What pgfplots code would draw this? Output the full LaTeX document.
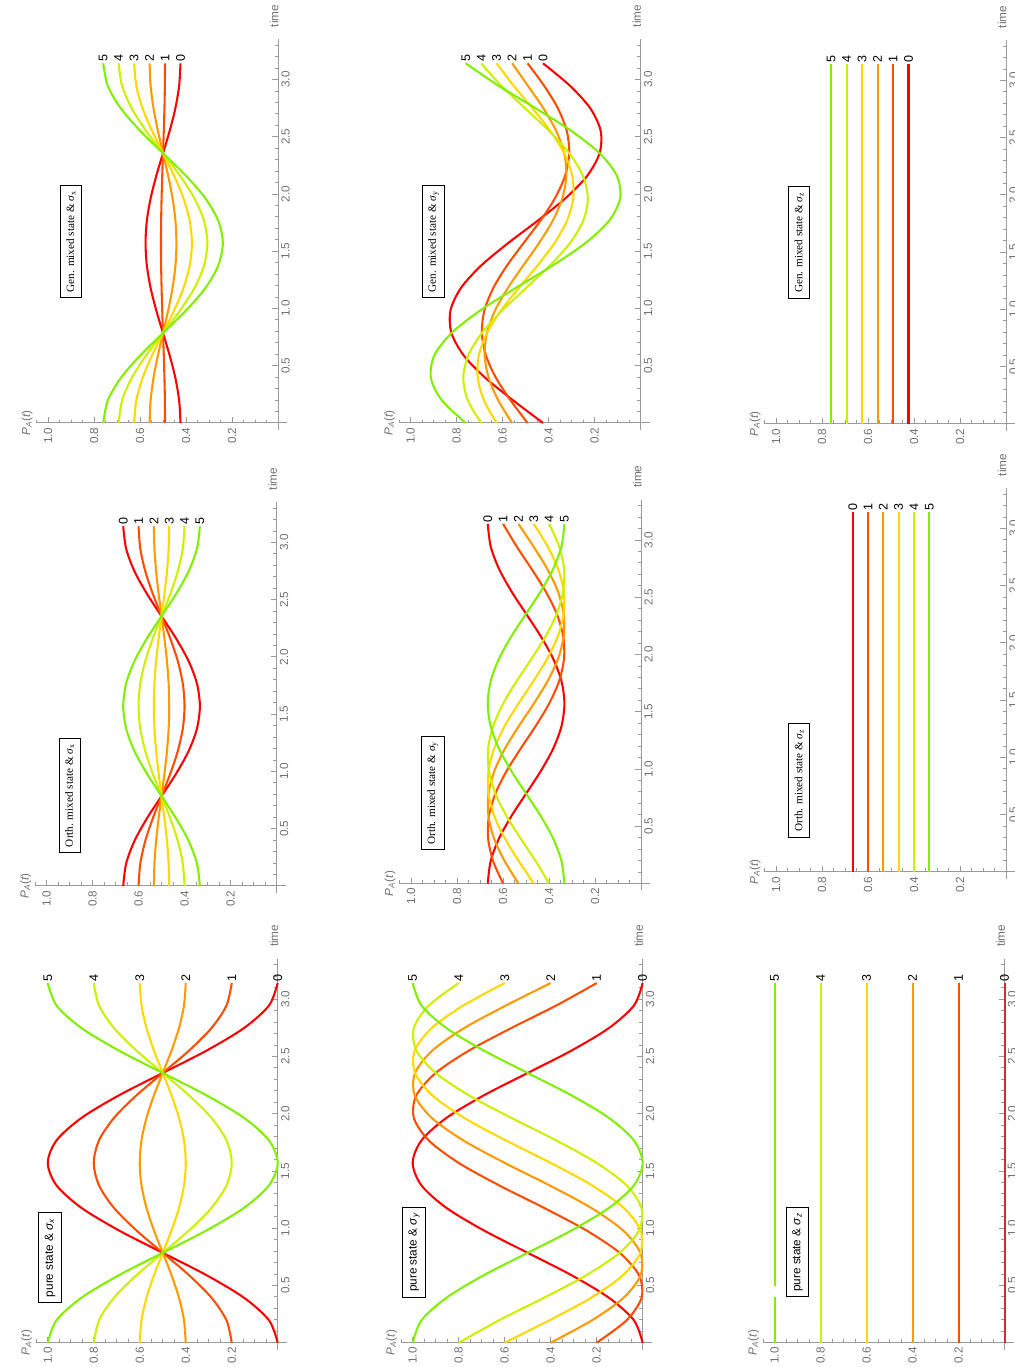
\documentclass[border=0pt]{standalone}
\usepackage{pgfplots}
\pgfplotsset{compat=1.18}
\usepackage{pgfplotstable}
\usepackage{fontspec}
\setmainfont{Liberation Sans}
\newfontfamily\seriffont{Liberation Serif}

\definecolor{c0}{HTML}{FF0000}
\definecolor{c1}{HTML}{FF4D00}
\definecolor{c2}{HTML}{FF9900}
\definecolor{c3}{HTML}{FFD800}
\definecolor{c4}{HTML}{CCF000}
\definecolor{c5}{HTML}{80F000}
\definecolor{axisgray}{HTML}{9A9A9A}
\definecolor{labgray}{HTML}{707070}

\newcommand\ticksize{\fontsize{8.8}{9.5}\selectfont}
\newcommand\lblsize{\fontsize{9.4}{10}\selectfont}
\newcommand\sansbox{\fontsize{8.8}{10}\selectfont}
\newcommand\serifbox{\seriffont\fontsize{8.4}{10}\selectfont}

% P_A(t) of the six initial states k = 0..5, sampled at t = j*pi/16
\pgfplotstableread{
t k0 k1 k2 k3 k4 k5
0.00000 0.00000 0.20000 0.40000 0.60000 0.80000 1.00000
0.19635 0.03806 0.22284 0.40761 0.59239 0.77716 0.96194
0.39270 0.14645 0.28787 0.42929 0.57071 0.71213 0.85355
0.58905 0.30866 0.38520 0.46173 0.53827 0.61480 0.69134
0.78540 0.50000 0.50000 0.50000 0.50000 0.50000 0.50000
0.98175 0.69134 0.61480 0.53827 0.46173 0.38520 0.30866
1.17810 0.85355 0.71213 0.57071 0.42929 0.28787 0.14645
1.37445 0.96194 0.77716 0.59239 0.40761 0.22284 0.03806
1.57080 1.00000 0.80000 0.60000 0.40000 0.20000 0.00000
1.76715 0.96194 0.77716 0.59239 0.40761 0.22284 0.03806
1.96350 0.85355 0.71213 0.57071 0.42929 0.28787 0.14645
2.15984 0.69134 0.61480 0.53827 0.46173 0.38520 0.30866
2.35619 0.50000 0.50000 0.50000 0.50000 0.50000 0.50000
2.55254 0.30866 0.38520 0.46173 0.53827 0.61480 0.69134
2.74889 0.14645 0.28787 0.42929 0.57071 0.71213 0.85355
2.94524 0.03806 0.22284 0.40761 0.59239 0.77716 0.96194
3.14159 0.00000 0.20000 0.40000 0.60000 0.80000 1.00000
}\pureX

\pgfplotstableread{
t k0 k1 k2 k3 k4 k5
0.00000 0.00000 0.20000 0.40000 0.60000 0.80000 1.00000
0.19635 0.03806 0.06977 0.22013 0.40491 0.62409 0.96194
0.39270 0.14645 0.00503 0.08288 0.22430 0.42929 0.85355
0.58905 0.30866 0.01565 0.00912 0.08566 0.24525 0.69134
0.78540 0.50000 0.10000 0.01010 0.01010 0.10000 0.50000
0.98175 0.69134 0.24525 0.08566 0.00912 0.01565 0.30866
1.17810 0.85355 0.42929 0.22430 0.08288 0.00503 0.14645
1.37445 0.96194 0.62409 0.40491 0.22013 0.06977 0.03806
1.57080 1.00000 0.80000 0.60000 0.40000 0.20000 0.00000
1.76715 0.96194 0.93023 0.77987 0.59509 0.37591 0.03806
1.96350 0.85355 0.99497 0.91712 0.77570 0.57071 0.14645
2.15984 0.69134 0.98435 0.99088 0.91434 0.75475 0.30866
2.35619 0.50000 0.90000 0.98990 0.98990 0.90000 0.50000
2.55254 0.30866 0.75475 0.91434 0.99088 0.98435 0.69134
2.74889 0.14645 0.57071 0.77570 0.91712 0.99497 0.85355
2.94524 0.03806 0.37591 0.59509 0.77987 0.93023 0.96194
3.14159 0.00000 0.20000 0.40000 0.60000 0.80000 1.00000
}\pureY

\pgfplotstableread{
t k0 k1 k2 k3 k4 k5
0.00000 0.66667 0.60000 0.53333 0.46667 0.40000 0.33333
0.19635 0.65398 0.59239 0.53080 0.46920 0.40761 0.34602
0.39270 0.61785 0.57071 0.52357 0.47643 0.42929 0.38215
0.58905 0.56378 0.53827 0.51276 0.48724 0.46173 0.43622
0.78540 0.50000 0.50000 0.50000 0.50000 0.50000 0.50000
0.98175 0.43622 0.46173 0.48724 0.51276 0.53827 0.56378
1.17810 0.38215 0.42929 0.47643 0.52357 0.57071 0.61785
1.37445 0.34602 0.40761 0.46920 0.53080 0.59239 0.65398
1.57080 0.33333 0.40000 0.46667 0.53333 0.60000 0.66667
1.76715 0.34602 0.40761 0.46920 0.53080 0.59239 0.65398
1.96350 0.38215 0.42929 0.47643 0.52357 0.57071 0.61785
2.15984 0.43622 0.46173 0.48724 0.51276 0.53827 0.56378
2.35619 0.50000 0.50000 0.50000 0.50000 0.50000 0.50000
2.55254 0.56378 0.53827 0.51276 0.48724 0.46173 0.43622
2.74889 0.61785 0.57071 0.52357 0.47643 0.42929 0.38215
2.94524 0.65398 0.59239 0.53080 0.46920 0.40761 0.34602
3.14159 0.66667 0.60000 0.53333 0.46667 0.40000 0.33333
}\orthX

\pgfplotstableread{
t k0 k1 k2 k3 k4 k5
0.00000 0.66667 0.60000 0.53333 0.46667 0.40000 0.33333
0.19635 0.65398 0.64341 0.59329 0.53169 0.45863 0.34602
0.39270 0.61785 0.66499 0.63904 0.59190 0.52357 0.38215
0.58905 0.56378 0.66145 0.66363 0.63811 0.58491 0.43622
0.78540 0.50000 0.63333 0.66330 0.66330 0.63333 0.50000
0.98175 0.43622 0.58491 0.63811 0.66363 0.66145 0.56378
1.17810 0.38215 0.52357 0.59190 0.63904 0.66499 0.61785
1.37445 0.34602 0.45863 0.53169 0.59329 0.64341 0.65398
1.57080 0.33333 0.40000 0.46667 0.53333 0.60000 0.66667
1.76715 0.34602 0.35659 0.40671 0.46831 0.54137 0.65398
1.96350 0.38215 0.33501 0.36096 0.40810 0.47643 0.61785
2.15984 0.43622 0.33855 0.33637 0.36189 0.41509 0.56378
2.35619 0.50000 0.36667 0.33670 0.33670 0.36667 0.50000
2.55254 0.56378 0.41509 0.36189 0.33637 0.33855 0.43622
2.74889 0.61785 0.47643 0.40810 0.36096 0.33501 0.38215
2.94524 0.65398 0.54137 0.46831 0.40671 0.35659 0.34602
3.14159 0.66667 0.60000 0.53333 0.46667 0.40000 0.33333
}\orthY

\pgfplotstableread{
t k0 k1 k2 k3 k4 k5
0.00000 0.42400 0.49120 0.55840 0.62560 0.69280 0.76000
0.19635 0.42979 0.49187 0.55395 0.61604 0.67812 0.74021
0.39270 0.44626 0.49378 0.54130 0.58881 0.63633 0.68385
0.58905 0.47092 0.49663 0.52235 0.54806 0.57378 0.59950
0.78540 0.50000 0.50000 0.50000 0.50000 0.50000 0.50000
0.98175 0.52908 0.50337 0.47765 0.45194 0.42622 0.40050
1.17810 0.55374 0.50622 0.45870 0.41119 0.36367 0.31615
1.37445 0.57021 0.50813 0.44605 0.38396 0.32188 0.25979
1.57080 0.57600 0.50880 0.44160 0.37440 0.30720 0.24000
1.76715 0.57021 0.50813 0.44605 0.38396 0.32188 0.25979
1.96350 0.55374 0.50622 0.45870 0.41119 0.36367 0.31615
2.15984 0.52908 0.50337 0.47765 0.45194 0.42622 0.40050
2.35619 0.50000 0.50000 0.50000 0.50000 0.50000 0.50000
2.55254 0.47092 0.49663 0.52235 0.54806 0.57378 0.59950
2.74889 0.44626 0.49378 0.54130 0.58881 0.63633 0.68385
2.94524 0.42979 0.49187 0.55395 0.61604 0.67812 0.74021
3.14159 0.42400 0.49120 0.55840 0.62560 0.69280 0.76000
}\genX

\pgfplotstableread{
t k0 k1 k2 k3 k4 k5
0.00000 0.42400 0.49120 0.55840 0.62560 0.69280 0.76000
0.19635 0.55301 0.56458 0.61824 0.68033 0.75083 0.86343
0.39270 0.67395 0.62813 0.66009 0.70760 0.77068 0.91154
0.58905 0.76841 0.67217 0.67756 0.70327 0.74932 0.89699
0.78540 0.82200 0.69000 0.66800 0.66800 0.69000 0.82200
0.98175 0.82657 0.67891 0.63286 0.60715 0.60176 0.69799
1.17810 0.78143 0.64057 0.57749 0.52998 0.49802 0.54384
1.37445 0.69343 0.58084 0.51034 0.44825 0.39459 0.38301
1.57080 0.57600 0.50880 0.44160 0.37440 0.30720 0.24000
1.76715 0.44699 0.43542 0.38176 0.31967 0.24917 0.13657
1.96350 0.32605 0.37187 0.33991 0.29240 0.22932 0.08846
2.15984 0.23159 0.32783 0.32244 0.29673 0.25068 0.10301
2.35619 0.17800 0.31000 0.33200 0.33200 0.31000 0.17800
2.55254 0.17343 0.32109 0.36714 0.39285 0.39824 0.30201
2.74889 0.21857 0.35943 0.42251 0.47002 0.50198 0.45616
2.94524 0.30657 0.41916 0.48966 0.55175 0.60541 0.61699
3.14159 0.42400 0.49120 0.55840 0.62560 0.69280 0.76000
}\genY

\pgfplotsset{
  panel/.style={
    scale only axis, width=188pt, height=292.8pt,
    x dir=reverse,
    xmin=-0.04, xmax=1.05, ymin=-0.06, ymax=3.35,
    axis lines=middle,
    axis line style={draw=axisgray, line width=0.75pt, -},
    every inner x axis line/.append style={-},
    every inner y axis line/.append style={-},
    xtick={0.2,0.4,0.6,0.8,1.0}, xticklabels={0.2,0.4,0.6,0.8,1.0},
    ytick={0.5,1.0,1.5,2.0,2.5,3.0}, yticklabels={0.5,1.0,1.5,2.0,2.5,3.0},
    minor xtick={0.05,0.1,...,1.05},
    minor ytick={0.1,0.2,...,3.31},
    tick align=inside,
    major tick length=4.5pt, minor tick length=2.6pt,
    tick style={draw=axisgray, line width=0.7pt},
    xticklabel style={rotate=90, anchor=east, font=\ticksize, text=labgray, inner sep=3.3pt},
    yticklabel style={rotate=90, anchor=north, font=\ticksize, text=labgray, inner sep=2.3pt},
    anchor=origin,
    clip=false,
  },
  curve/.style={smooth, line width=1.55pt, no marks},
}
\tikzset{
  lbl/.style={rotate=90, anchor=west, inner sep=1pt, font=\lblsize, text=black},
  box/.style={rotate=90, draw=black, fill=white, line width=0.75pt,
    inner xsep=4pt, inner ysep=4.5pt},
}

% axis titles of a panel
\newcommand\axistitles{%
  \node[rotate=90, anchor=south, inner sep=2pt, text=labgray, font=\ticksize]
    at (axis cs:1.055,0) {\textit{P}\textsubscript{\textit{A}}(\textit{t})};
  \node[rotate=90, anchor=west, inner sep=3pt, text=labgray, font=\ticksize]
    at (axis cs:0.017,3.42) {time};
}
% the six curves of one table
\newcommand\sixcurves[1]{%
  \addplot[curve, c0] table[x=k0, y=t] {#1};
  \addplot[curve, c1] table[x=k1, y=t] {#1};
  \addplot[curve, c2] table[x=k2, y=t] {#1};
  \addplot[curve, c3] table[x=k3, y=t] {#1};
  \addplot[curve, c4] table[x=k4, y=t] {#1};
  \addplot[curve, c5] table[x=k5, y=t] {#1};
}
% curve numbers at the end of each curve
\newcommand\sixlabels[6]{%
  \node[lbl] at (axis cs:#1,3.1416) {0};
  \node[lbl] at (axis cs:#2,3.1416) {1};
  \node[lbl] at (axis cs:#3,3.1416) {2};
  \node[lbl] at (axis cs:#4,3.1416) {3};
  \node[lbl] at (axis cs:#5,3.1416) {4};
  \node[lbl] at (axis cs:#6,3.1416) {5};
}

\begin{document}
\begin{tikzpicture}
\useasboundingbox (0pt,0pt) rectangle (760.5pt,1025.25pt);

% ---- pure state ----
\begin{axis}[panel, at={(208.3pt,18.2pt)}]
  \sixcurves{\pureX}
  \sixlabels{0}{0.2}{0.4}{0.6}{0.8}{1}
  \axistitles
  \node[box, font=\sansbox] at (axis cs:0.99,0.744)
    {pure state \& \textit{σ}\textsubscript{\textit{x}}};
\end{axis}

\begin{axis}[panel, at={(482.0pt,18.2pt)}]
  \sixcurves{\pureY}
  \sixlabels{0}{0.2}{0.4}{0.6}{0.8}{1}
  \axistitles
  \node[box, font=\sansbox] at (axis cs:0.994,0.79)
    {pure state \& \textit{σ}\textsubscript{\textit{y}}};
\end{axis}

\begin{axis}[panel, at={(753.4pt,18.2pt)}]
  \addplot[curve, c0!65!gray] coordinates {(0,0) (0,3.1416)};
  \addplot[curve, c1] coordinates {(0.2,0) (0.2,3.1416)};
  \addplot[curve, c2] coordinates {(0.4,0) (0.4,3.1416)};
  \addplot[curve, c3] coordinates {(0.6,0) (0.6,3.1416)};
  \addplot[curve, c4] coordinates {(0.8,0) (0.8,3.1416)};
  \addplot[curve, c5] coordinates {(1,0) (1,0.40)};
  \addplot[curve, c5] coordinates {(1,0.50) (1,3.1416)};
  \sixlabels{0}{0.2}{0.4}{0.6}{0.8}{1}
  \axistitles
  \node[box, font=\sansbox] at (axis cs:0.90,0.79)
    {pure state \& \textit{σ}\textsubscript{\textit{z}}};
\end{axis}

% ---- orthogonal mixed state ----
\begin{axis}[panel, at={(207.4pt,360.8pt)}]
  \sixcurves{\orthX}
  \sixlabels{0.6667}{0.6}{0.5333}{0.4667}{0.4}{0.3333}
  \axistitles
  \node[box, font=\serifbox] at (axis cs:0.90,0.79)
    {Orth. mixed state \& \textit{σ}\textsubscript{x}};
\end{axis}

\begin{axis}[panel, at={(480.8pt,362.6pt)}]
  \sixcurves{\orthY}
  \sixlabels{0.6667}{0.6}{0.5333}{0.4667}{0.4}{0.3333}
  \axistitles
  \node[box, font=\serifbox] at (axis cs:0.906,0.79)
    {Orth. mixed state \& \textit{σ}\textsubscript{y}};
\end{axis}

\begin{axis}[panel, at={(754.5pt,371.3pt)}]
  \addplot[curve, c0] coordinates {(0.6667,0) (0.6667,3.1416)};
  \addplot[curve, c1] coordinates {(0.6,0) (0.6,3.1416)};
  \addplot[curve, c2] coordinates {(0.5333,0) (0.5333,3.1416)};
  \addplot[curve, c3] coordinates {(0.4667,0) (0.4667,3.1416)};
  \addplot[curve, c4] coordinates {(0.4,0) (0.4,3.1416)};
  \addplot[curve, c5] coordinates {(0.3333,0) (0.3333,3.1416)};
  \sixlabels{0.6667}{0.6}{0.5333}{0.4667}{0.4}{0.3333}
  \axistitles
  \node[box, font=\serifbox] at (axis cs:0.90,0.80)
    {Orth. mixed state \& \textit{σ}\textsubscript{z}};
\end{axis}

% ---- general mixed state ----
\begin{axis}[panel, at={(208.5pt,708pt)}]
  \sixcurves{\genX}
  \sixlabels{0.424}{0.4912}{0.5584}{0.6256}{0.6928}{0.76}
  \axistitles
  \node[box, font=\serifbox] at (axis cs:0.90,1.585)
    {Gen. mixed state \& \textit{σ}\textsubscript{x}};
\end{axis}

\begin{axis}[panel, at={(480.4pt,708pt)}]
  \sixcurves{\genY}
  \sixlabels{0.424}{0.4912}{0.5584}{0.6256}{0.6928}{0.76}
  \axistitles
  \node[box, font=\serifbox] at (axis cs:0.90,1.585)
    {Gen. mixed state \& \textit{σ}\textsubscript{y}};
\end{axis}

\begin{axis}[panel, at={(754.5pt,707.3pt)}]
  \addplot[curve, c0] coordinates {(0.424,0) (0.424,3.1416)};
  \addplot[curve, c1] coordinates {(0.4912,0) (0.4912,3.1416)};
  \addplot[curve, c2] coordinates {(0.5584,0) (0.5584,3.1416)};
  \addplot[curve, c3] coordinates {(0.6256,0) (0.6256,3.1416)};
  \addplot[curve, c4] coordinates {(0.6928,0) (0.6928,3.1416)};
  \addplot[curve, c5] coordinates {(0.76,0) (0.76,3.1416)};
  \sixlabels{0.424}{0.4912}{0.5584}{0.6256}{0.6928}{0.76}
  \axistitles
  \node[box, font=\serifbox] at (axis cs:0.90,1.585)
    {Gen. mixed state \& \textit{σ}\textsubscript{z}};
\end{axis}
\end{tikzpicture}
\end{document}
